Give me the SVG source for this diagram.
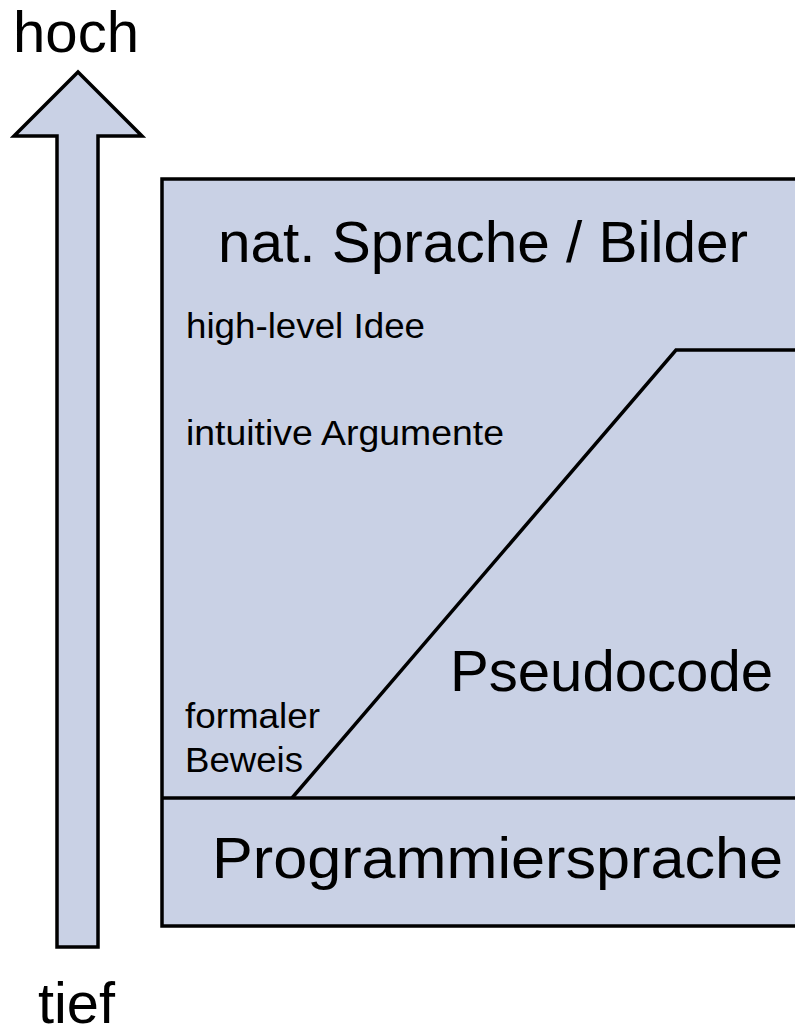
<svg xmlns="http://www.w3.org/2000/svg" width="795" height="1035" viewBox="0 0 795 1035">
<style>
.shape{fill:#c9d1e5;stroke:#000;stroke-width:3.5;stroke-linejoin:miter}
.line{fill:none;stroke:#000;stroke-width:3.5}
.big{font-family:"Liberation Sans",Arial,sans-serif;font-size:58px;fill:#000}
.small{font-family:"Liberation Sans",Arial,sans-serif;font-size:35px;fill:#000}
</style>
<rect width="795" height="1035" fill="#fff"/>
<g id="arrow">
<polygon class="shape" points="78,72 142,136 98,136 98,947 57,947 57,136 14,136"/>
<text class="big" x="13" y="52" textLength="126" lengthAdjust="spacingAndGlyphs">hoch</text>
<text class="big" x="38" y="1023" textLength="77" lengthAdjust="spacingAndGlyphs">tief</text>
</g>
<g id="box">
<rect class="shape" x="162" y="179" width="640" height="747"/>
<text class="big" x="218" y="262" textLength="530" lengthAdjust="spacingAndGlyphs">nat. Sprache / Bilder</text>
<text class="small" x="186" y="338" textLength="239" lengthAdjust="spacingAndGlyphs">high-level Idee</text>
<text class="small" x="186" y="445" textLength="318" lengthAdjust="spacingAndGlyphs">intuitive Argumente</text>
<text class="small" x="185" y="728" textLength="135" lengthAdjust="spacingAndGlyphs">formaler</text>
<text class="small" x="185" y="772" textLength="118" lengthAdjust="spacingAndGlyphs">Beweis</text>
</g>
<g id="connectors">
<line class="line" x1="162" y1="798" x2="800" y2="798"/>
<polyline class="line" points="292,798 676,350 800,350"/>
</g>
<g id="pseudocode">
<text class="big" x="450" y="691" textLength="323" lengthAdjust="spacingAndGlyphs">Pseudocode</text>
</g>
<g id="programmiersprache">
<text class="big" x="212" y="878" textLength="571" lengthAdjust="spacingAndGlyphs">Programmiersprache</text>
</g>
</svg>
